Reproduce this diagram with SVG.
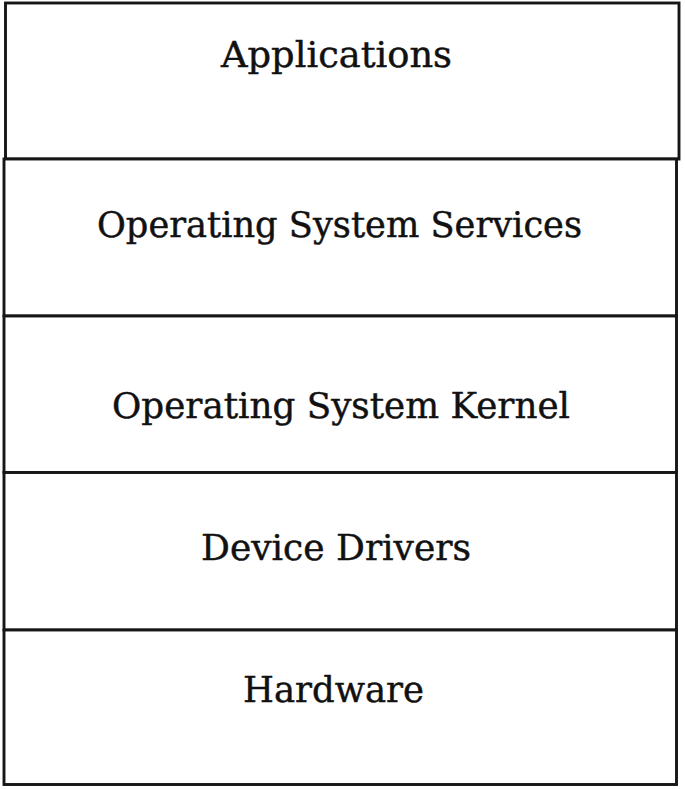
<svg xmlns="http://www.w3.org/2000/svg" width="685" height="789" viewBox="0 0 685 789">
<style>
.box{fill:#fff;stroke:#161616;stroke-width:2.9}
.lbl{font-family:"DejaVu Serif","Liberation Serif",serif;font-size:35px;fill:#111;stroke:#111;stroke-width:0.45;text-anchor:middle}
</style>
<rect width="685" height="789" fill="#fff"/>
<g id="applications"><rect class="box" x="5.5" y="3" width="673.5" height="156"/><text class="lbl" x="336.5" y="67" textLength="231" lengthAdjust="spacingAndGlyphs">Applications</text></g>
<g id="os-services"><rect class="box" x="4" y="159" width="672.5" height="157"/><text class="lbl" x="339.5" y="237" textLength="485" lengthAdjust="spacingAndGlyphs">Operating System Services</text></g>
<g id="os-kernel"><rect class="box" x="4" y="316" width="672.5" height="156.5"/><text class="lbl" x="341" y="418" textLength="458" lengthAdjust="spacingAndGlyphs">Operating System Kernel</text></g>
<g id="device-drivers"><rect class="box" x="4" y="472.5" width="672.5" height="157.5"/><text class="lbl" x="336" y="560" textLength="270" lengthAdjust="spacingAndGlyphs">Device Drivers</text></g>
<g id="hardware"><rect class="box" x="4" y="630" width="672.5" height="154.5"/><text class="lbl" x="333.5" y="702" textLength="181" lengthAdjust="spacingAndGlyphs">Hardware</text></g>
<g id="connectors"></g>
</svg>
